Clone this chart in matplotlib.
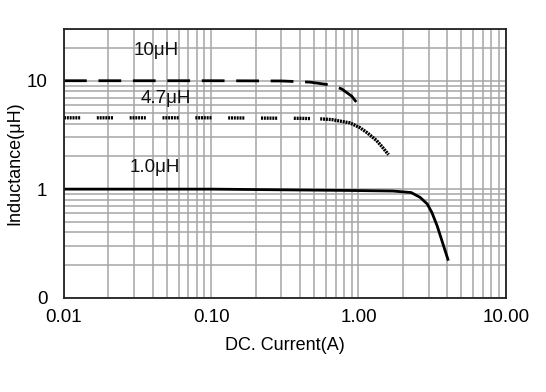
import matplotlib
matplotlib.use("Agg")
import matplotlib.pyplot as plt
from matplotlib.ticker import FixedLocator, LogLocator, NullFormatter

plt.rcParams['font.family'] = ['Liberation Sans', 'DejaVu Sans']

# DC current (A) vs inductance (uH)
i_10uh = [0.01, 0.1, 0.3, 0.47, 0.64, 0.77, 0.9, 1.0]
l_10uh = [10.0, 10.0, 9.95, 9.7, 9.15, 8.4, 7.2, 6.0]

i_47uh = [0.01, 0.1, 0.4, 0.55, 0.66, 0.877, 1.02, 1.15, 1.33, 1.45, 1.6]
l_47uh = [4.55, 4.55, 4.5, 4.45, 4.38, 4.08, 3.7, 3.3, 2.8, 2.45, 2.08]

i_1uh = [0.01, 0.1, 1.0, 1.72, 2.28, 2.62, 2.93, 3.15, 3.42, 4.05]
l_1uh = [1.0, 1.0, 0.97, 0.96, 0.93, 0.84, 0.73, 0.61, 0.46, 0.225]

labels = ['10μH', '4.7μH', '1.0μH']
label_pos = [(0.0422, 19.0), (0.0493, 6.9), (0.0415, 1.57)]

x_ticks = [0.01, 0.1, 1, 10]
x_ticklabels = ['0.01', '0.10', '1.00', '10.00']
y_ticks = [0.1, 1, 10]
y_ticklabels = ['0', '1', '10']

fig = plt.figure(figsize=(5.46, 3.92), dpi=100)
ax = fig.add_axes([0.1172, 0.241, 0.809, 0.685])

ax.plot(i_10uh, l_10uh, color='black', lw=2.0, ls=(0, (8.2, 4.2)), solid_capstyle='butt')

# 4.7uH: grouped wavy dashes on the flat part, continuous fine dots on the knee
k = 3
wavy = (0, (0.6, 0.25, 0.6, 0.25, 0.6, 0.25, 0.6, 0.25, 0.6, 0.25, 0.6, 5.0))
ax.plot(i_47uh[:k + 1], l_47uh[:k + 1], color='black', lw=2.4, ls=wavy)
ax.plot(i_47uh[k:], l_47uh[k:], color='black', lw=2.4, ls=(0, (0.6, 0.25)))

ax.plot(i_1uh, l_1uh, color='black', lw=2.0)

for txt, (x, y) in zip(labels, label_pos):
    ax.text(x, y, txt, fontsize=13.5, ha='center', va='center', color='#111111')

ax.set_xscale('log')
ax.set_yscale('log')
ax.set_xlim(0.01, 10)
ax.set_ylim(0.1, 30)

ax.xaxis.set_major_locator(FixedLocator(x_ticks))
ax.set_xticklabels(x_ticklabels)
ax.yaxis.set_major_locator(FixedLocator(y_ticks))
ax.set_yticklabels(y_ticklabels)
ax.xaxis.set_minor_locator(LogLocator(base=10, subs=range(2, 10), numticks=20))
ax.yaxis.set_minor_locator(LogLocator(base=10, subs=range(2, 10), numticks=20))
ax.xaxis.set_minor_formatter(NullFormatter())
ax.yaxis.set_minor_formatter(NullFormatter())

ax.grid(True, which='both', color='#a6a6a6', lw=1.1)
ax.set_axisbelow(True)
ax.tick_params(which='both', length=0, labelsize=13.5)
ax.tick_params(axis='x', pad=8)
ax.tick_params(axis='y', pad=12)
for s in ax.spines.values():
    s.set_linewidth(1.3)
    s.set_color('#222222')

ax.set_xlabel('DC. Current(A)', fontsize=13, labelpad=8)
ax.set_ylabel('Inductance(μH)', fontsize=13, labelpad=2)

fig.savefig('out.png', dpi=100)
